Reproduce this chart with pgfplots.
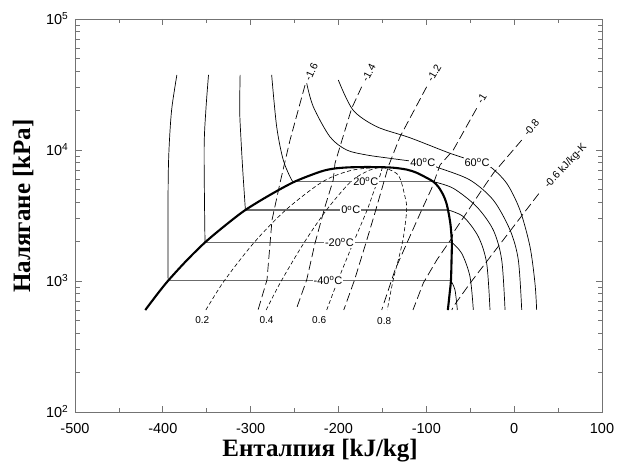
\documentclass[border=0pt]{standalone}
\usepackage{pgfplots}
\pgfplotsset{compat=1.18}
\usepackage{fontspec}
\setmainfont{Liberation Sans}
\newfontfamily\tnr{Liberation Serif}
\usetikzlibrary{calc}
\begin{document}
\begin{tikzpicture}
\begin{axis}[
  scale only axis, width=527pt, height=393pt,
  xmin=-500, xmax=100, ymode=log, ymin=100, ymax=100000,
  axis line style={draw=black!55, line width=0.8pt},
  xtick={-500,-400,-300,-200,-100,0,100},
  xticklabels={-500,-400,-300,-200,-100,0,100},
  minor xtick={-450,-350,-250,-150,-50,50},
  ytick={100,1000,10000,100000},
  yticklabels={10\textsuperscript{2},10\textsuperscript{3},10\textsuperscript{4},10\textsuperscript{5}},
  minor ytick={200,300,400,500,600,700,800,900,2000,3000,4000,5000,6000,7000,8000,9000,20000,30000,40000,50000,60000,70000,80000,90000},
  tick align=inside,
  major tick length=6.5pt, minor tick length=4.5pt,
  tick style={draw=black!55, line width=0.7pt},
  xticklabel style={font=\fontsize{14.5}{15}\selectfont, anchor=base, inner sep=0pt, yshift=-21.3pt},
  yticklabel style={font=\fontsize{14.5}{15}\selectfont, anchor=base east, inner sep=0pt, xshift=-6.5pt, yshift=-5.3pt},
  xlabel={\tnr\bfseries Енталпия [kJ/kg]},
  ylabel={\tnr\bfseries Налягане [kPa]},
  xlabel style={font=\fontsize{25}{25}\selectfont, at={(axis description cs:0.465,-0.097)}, anchor=center},
  ylabel style={font=\fontsize{25}{25}\selectfont, at={(axis description cs:-0.0985,0.524)}, anchor=center, rotate=0},
  clip=false,
]
\coordinate (LL) at (rel axis cs:0,0);
\coordinate (UR) at (rel axis cs:1,1);
% two-phase isotherms (gray)
\addplot[draw=black!58, line width=1.2pt] coordinates {(-394,1005) (-72,1005)};
\addplot[draw=black!58, line width=1.2pt] coordinates {(-352,1970) (-71,1970)};
\addplot[draw=black!58, line width=1.2pt] coordinates {(-306,3485) (-75.3,3485)};
\addplot[draw=black!58, line width=1.2pt] coordinates {(-250,5730) (-92,5730)};
% liquid-region isotherms
\addplot[black, line width=0.7pt, smooth] coordinates {(-394,1005) (-394,5000) (-393,10000) (-390,20200) (-384,37400)};
\addplot[black, line width=0.7pt, smooth] coordinates {(-352,1970) (-353,10000) (-351,20200) (-348,37400)};
\addplot[black, line width=0.7pt, smooth] coordinates {(-306,3485) (-309,7000) (-311,12000) (-312.5,20000) (-312,37400)};
\addplot[black, line width=0.7pt, smooth] coordinates {(-250,5730) (-253.3,5900) (-262.9,8390) (-270.4,15070) (-276.1,37400)};
% supercritical isotherms
\addplot[black, line width=0.7pt, smooth] coordinates {(-236.2,32300) (-228.7,21400) (-209.7,12600) (-190.7,10000) (-167.9,9160) (-141.4,8640) (-104,7970) (-84.4,7250) (-50.3,5900) (-23.8,4150) (-4.7,2450) (4.7,1450) (8.6,601)};
\addplot[black, line width=0.7pt, smooth] coordinates {(-200.2,34200) (-183.5,20200) (-156.5,15070) (-118.6,12400) (-73.1,9440) (-42.3,8090) (-27.5,7470) (-8.5,5570) (6.6,3480) (18.0,1830) (23.7,959) (25.6,601)};
% vapour-region isotherms
\addplot[black, line width=0.7pt, smooth] coordinates {(-92,5730) (-69.3,5100) (-42.7,3690) (-23.8,2450) (-14.2,1450) (-10.4,601)};
\addplot[black, line width=0.7pt, smooth] coordinates {(-75.3,3485) (-57.9,3100) (-40.8,2180) (-31.3,1365) (-27.5,601)};
\addplot[black, line width=0.7pt, smooth] coordinates {(-71,1970) (-59.7,1625) (-50.3,1080) (-46.5,601)};
\addplot[black, line width=0.7pt, smooth] coordinates {(-72,1005) (-67.4,854) (-64.7,601)};
% entropy lines (long dashes)
\addplot[black, line width=0.7pt, dash pattern=on 9pt off 4pt] coordinates {(-238.1,31300) (-255.2,11900) (-266.6,5600) (-275.7,2920) (-281.4,1020) (-291.6,601)};
\addplot[black, line width=0.7pt, dash pattern=on 9pt off 4pt] coordinates {(-173.6,30400) (-185,20800) (-198.3,10600) (-204,7910) (-206,5900) (-215.4,3690) (-226.8,1940) (-236.2,1020) (-248.4,601)};
\addplot[black, line width=0.7pt, dash pattern=on 9pt off 4pt] coordinates {(-99.6,30400) (-130,12600) (-143.3,7480) (-151,4950) (-158.4,3330) (-168.6,1970) (-181.7,1020) (-194,601)};
\addplot[black, line width=0.7pt, dash pattern=on 9pt off 4pt] coordinates {(-42.7,20800) (-69.3,10000) (-84.4,7680) (-93.9,5100) (-105.3,3485) (-120.5,2060) (-135.7,1215) (-150.8,601)};
\addplot[black, line width=0.7pt, dash pattern=on 9pt off 4pt] coordinates {(8.6,11900) (-23.8,6640) (-36.9,4950) (-69.6,2320) (-70.9,2130) (-88,1450) (-103.4,967) (-115.2,601)};
\addplot[black, line width=0.7pt, dash pattern=on 9pt off 4pt] coordinates {(28,4640) (-12.4,2060) (-50.3,960) (-69.3,637) (-71,601)};
% quality lines (short dashes)
\addplot[black, line width=0.6pt, dash pattern=on 4pt off 2.5pt, smooth] coordinates {(-351,601) (-330,1005) (-296,1970) (-260,3485) (-218,5730) (-185,7000) (-150,7410)};
\addplot[black, line width=0.6pt, dash pattern=on 4pt off 2.5pt, smooth] coordinates {(-282.4,601) (-265,1005) (-239,1970) (-213.6,3485) (-186,5730) (-165,7000) (-150,7410)};
\addplot[black, line width=0.6pt, dash pattern=on 4pt off 2.5pt, smooth] coordinates {(-213.4,601) (-200.8,1005) (-183,1970) (-167.4,3485) (-159,5000) (-153,6300) (-150,7410)};
\addplot[black, line width=0.6pt, dash pattern=on 4pt off 2.5pt, smooth] coordinates {(-150,7410) (-132,6440) (-124.3,4400) (-122.4,3485) (-126.2,2140) (-131.9,1450) (-137.6,1030) (-144.5,601)};
% saturation dome
\addplot[black, line width=2.1pt, smooth] coordinates {(-420,600) (-407,783) (-394,1005) (-373,1432) (-352,1970) (-329,2655) (-306,3485) (-278,4540) (-250,5730) (-221,6820) (-206,7200) (-190,7360) (-172,7410) (-155,7400) (-138,7330) (-122,7080) (-111,6700) (-100,6150) (-92,5730) (-86,5200) (-80.7,4530) (-77.5,4000) (-75.3,3485) (-72.5,2700) (-71,1970) (-71.3,1450) (-72,1005) (-73.5,800) (-75.5,600)};
% labels
\node[fill=white, inner sep=1pt, font=\fontsize{11}{11}\selectfont] at (axis cs:-212,1005) {-40\textsuperscript{o}C};
\node[fill=white, inner sep=1pt, font=\fontsize{11}{11}\selectfont] at (axis cs:-199,1970) {-20\textsuperscript{o}C};
\node[fill=white, inner sep=1pt, font=\fontsize{11}{11}\selectfont] at (axis cs:-186,3485) {0\textsuperscript{o}C};
\node[fill=white, inner sep=1pt, font=\fontsize{11}{11}\selectfont] at (axis cs:-169,5730) {20\textsuperscript{o}C};
\node[fill=white, inner sep=1pt, font=\fontsize{11}{11}\selectfont] at (axis cs:-104,7970) {40\textsuperscript{o}C};
\node[fill=white, inner sep=1pt, font=\fontsize{11}{11}\selectfont] at (axis cs:-42.3,8090) {60\textsuperscript{o}C};
\node[font=\fontsize{10}{10}\selectfont] at (axis cs:-355,505) {0.2};
\node[font=\fontsize{10}{10}\selectfont] at (axis cs:-282,505) {0.4};
\node[font=\fontsize{10}{10}\selectfont] at (axis cs:-222,500) {0.6};
\node[font=\fontsize{10}{10}\selectfont] at (axis cs:-148,495) {0.8};
\node[font=\fontsize{10.5}{10.5}\selectfont, rotate=65, anchor=west, inner sep=1pt] at (axis cs:-236,33500) {-1.6};
\node[font=\fontsize{10.5}{10.5}\selectfont, rotate=62, anchor=west, inner sep=1pt] at (axis cs:-171,33000) {-1.4};
\node[font=\fontsize{10.5}{10.5}\selectfont, rotate=60, anchor=west, inner sep=1pt] at (axis cs:-97,33000) {-1.2};
\node[font=\fontsize{10.5}{10.5}\selectfont, rotate=58, anchor=west, inner sep=1pt] at (axis cs:-40.5,22500) {-1};
\node[font=\fontsize{10.5}{10.5}\selectfont, rotate=50, anchor=west, inner sep=1pt] at (axis cs:12,12900) {-0.8};
\node[font=\fontsize{10.5}{10.5}\selectfont, rotate=47, anchor=west, inner sep=1pt] at (axis cs:36,5150) {-0.6 kJ/kg-K};
\end{axis}
\pgfresetboundingbox
\path ($(LL)+(-75pt,-59pt)$) rectangle ($(UR)+(20pt,19pt)$);
\end{tikzpicture}
\end{document}
